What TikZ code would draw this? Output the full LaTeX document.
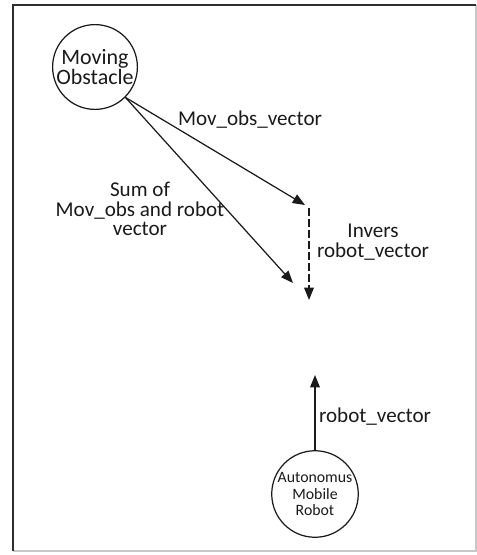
\documentclass[tikz,border=0pt]{standalone}
\usepackage{fontspec}
\setmainfont{Carlito}
\usetikzlibrary{arrows.meta, positioning, calc}
\definecolor{tinta}{HTML}{1A1A1A}
\definecolor{marco}{HTML}{2E2E2E}
\definecolor{marcoclaro}{HTML}{C8C8C8}
\tikzset{
  agente/.style={circle, draw=tinta, line width=0.7pt, minimum size=1.68cm, inner sep=0pt,
                 text centered, align=center, font=\fontsize{12.5}{11.5}\selectfont, text=tinta},
  robotc/.style={circle, draw=tinta, line width=0.7pt, minimum size=1.68cm, inner sep=0pt,
                 text centered, align=center, font=\fontsize{9}{9.5}\selectfont, text=tinta},
  rotulo/.style={align=center, font=\fontsize{12}{11}\selectfont, text=tinta, inner sep=1pt},
  arrow/.style={line width=0.7pt,-{Triangle[length=7pt,width=5.5pt]},color=tinta},
  inversa/.style={line width=0.7pt,-{Triangle[length=7pt,width=5.5pt]},color=tinta,
                  dash pattern=on 4.5pt off 1.8pt}
}
\begin{document}
\begin{tikzpicture}[x=0.02cm, y=-0.02cm]
  \useasboundingbox (0,0) rectangle (477,555);
  \draw [marcoclaro, line width=0.6pt] (476,5) -- (476,551) -- (13,551);
  \draw [marco, line width=0.8pt] (13,551) -- (13,5) -- (476,5);
  % agentes
  \node (obs) [agente] at (95,67) {Moving\\Obstacle};
  \node (amr) [robotc] at (315,494) {Autonomus\\Mobile\\Robot};
  % puntas libres
  \coordinate (movtip) at (305,205);
  \coordinate (invtop) at (309,208);
  \coordinate (invbot) at (309,300);
  \coordinate (sumtip) at (293,283);
  \coordinate (robtip) at (315,375);
  % vectores
  \draw [arrow] (obs.-45) -- (movtip);
  \draw [arrow] (obs.-45) -- (sumtip);
  \draw [inversa] (invtop) -- (invbot);
  \draw [arrow] (amr) -- (robtip);
  % rotulos
  \node (lmov) [rotulo] at (250,120) {Mov\_obs\_vector};
  \node (lsum) [rotulo] at (140,209) {Sum of\\Mov\_obs and robot\\vector};
  \node (linv) [rotulo] at (373,242) {Invers\\robot\_vector};
  \node (lrob) [rotulo, anchor=west] at (317,417) {robot\_vector};
\end{tikzpicture}
\end{document}
